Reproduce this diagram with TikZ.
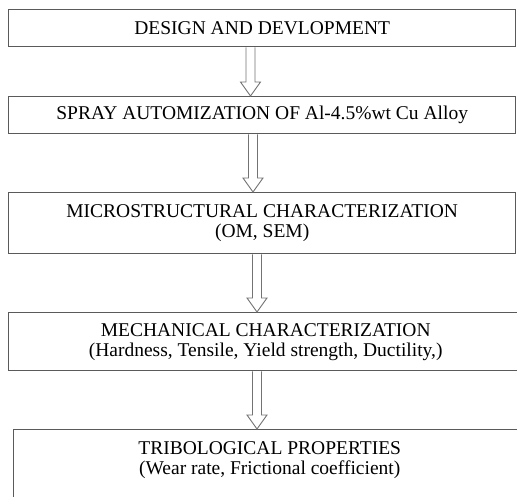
\documentclass[tikz,border=0pt]{standalone}
\usepackage{fontspec}
\setmainfont{Liberation Serif}
\usetikzlibrary{calc}

\definecolor{boxgray}{RGB}{90,90,90}
\definecolor{arrowgray}{RGB}{115,115,115}

\tikzset{
  stagebox/.style={draw=boxgray, line width=1.4pt, align=center, inner sep=0pt,
    font=\fontsize{19.5}{20}\selectfont, anchor=north west},
  hollowarrow/.style={draw=arrowgray, line width=0.9pt, fill=white}
}

% hollow block arrow: from node, to node, x position
\newcommand{\blockarrow}[3]{%
  \coordinate (ax) at (#3,0);
  \draw[hollowarrow] ($(ax |- #1.south)+(-4.5,0)$) -- ($(ax |- #2.north)+(-4.5,-14)$)
    -- ($(ax |- #2.north)+(-10,-14)$) -- (ax |- #2.north) -- ($(ax |- #2.north)+(10,-14)$)
    -- ($(ax |- #2.north)+(4.5,-14)$) -- ($(ax |- #1.south)+(4.5,0)$);
}

\begin{document}
\begin{tikzpicture}[x=1pt,y=-1pt]
  \useasboundingbox (0,0) rectangle (517,496);
  \clip (0,0) rectangle (517,496);
  \node[stagebox, minimum width=507pt, minimum height=37pt] (design) at (8,9) {DESIGN AND DEVLOPMENT};
  \node[stagebox, minimum width=507pt, minimum height=37pt] (spray) at (8,96) {SPRAY AUTOMIZATION OF Al-4.5\%wt Cu Alloy};
  \node[stagebox, minimum width=507pt, minimum height=61pt] (micro) at (8,192) {MICROSTRUCTURAL CHARACTERIZATION\\(OM, SEM)};
  \node[stagebox, minimum width=514pt, minimum height=58pt] (mech) at (8,312) {MECHANICAL CHARACTERIZATION\\(Hardness, Tensile, Yield strength, Ductility,)};
  \node[stagebox, minimum width=512pt, inner ysep=12pt, text depth=50pt] (tribo) at (13,429) {TRIBOLOGICAL PROPERTIES\\(Wear rate, Frictional coefficient)};
  \blockarrow{design}{spray}{250.5}
  \blockarrow{spray}{micro}{253}
  \blockarrow{micro}{mech}{257}
  \blockarrow{mech}{tribo}{257}
\end{tikzpicture}
\end{document}
